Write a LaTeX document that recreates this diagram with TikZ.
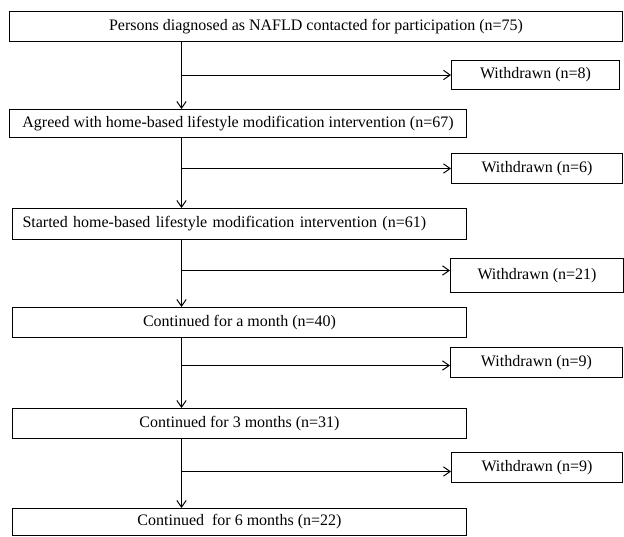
\documentclass[tikz,border=0pt]{standalone}
\usepackage{fontspec}
\setmainfont{Liberation Serif}
\usetikzlibrary{arrows.meta, positioning}

\tikzset{
    stagebox/.style={
        draw,
        line width=0.75pt,
        anchor=north west,
        inner sep=0pt,
        font=\fontsize{12}{14}\selectfont
    },
    flowarrow/.style={
        line width=0.75pt,
        -{Straight Barb[length=5pt,width=7pt]}
    }
}

\begin{document}
\begin{tikzpicture}[x=0.75pt, y=-0.75pt]
\useasboundingbox (0,0) rectangle (624,536);

\node [stagebox,
    minimum width=459.75pt,
    minimum height=22.5pt
]  (contacted) at (9,11) {Persons diagnosed as NAFLD contacted for participation (n=75)};

\node [stagebox,
    minimum width=126pt,
    minimum height=21.75pt
]  (out1) at (451,60) {Withdrawn (n=8)};

\node [stagebox,
    minimum width=342.75pt,
    minimum height=21pt
]  (agreed) at (9,109) {Agreed with home-based lifestyle modification intervention (n=67)};

\node [stagebox,
    minimum width=128.25pt,
    minimum height=22.5pt
]  (out2) at (451,153) {Withdrawn (n=6)};

\node [stagebox,
    text width=325.5pt,
    align=left,
    inner xsep=7.5pt,
    minimum height=23.25pt
]  (started) at (12,208) {Started home-based lifestyle modification intervention (n=61)};

\node [stagebox,
    minimum width=129.75pt,
    minimum height=25.5pt
]  (out3) at (450,258) {Withdrawn (n=21)};

\node [stagebox,
    minimum width=340.5pt,
    minimum height=22.5pt
]  (month1) at (12,307) {Continued for a month (n=40)};

\node [stagebox,
    minimum width=129pt,
    minimum height=22.5pt
]  (out4) at (450,347) {Withdrawn (n=9)};

\node [stagebox,
    minimum width=340.5pt,
    minimum height=22.5pt
]  (month3) at (12,408) {Continued for 3 months (n=31)};

\node [stagebox,
    minimum width=128.25pt,
    minimum height=22.5pt
]  (out5) at (451,452) {Withdrawn (n=9)};

\node [stagebox,
    minimum width=340.5pt,
    minimum height=20.25pt
]  (month6) at (12,508) {Continued\ \ for 6 months (n=22)};

\coordinate (spine) at (181.5,0);

\draw[flowarrow] (contacted.south -| spine) -- (agreed.north -| spine);
\draw[flowarrow] (agreed.south -| spine) -- (started.north -| spine);
\draw[flowarrow] (started.south -| spine) -- (month1.north -| spine);
\draw[flowarrow] (month1.south -| spine) -- (month3.north -| spine);
\draw[flowarrow] (month3.south -| spine) -- (month6.north -| spine);

% side exits
\draw[flowarrow] (spine |- out1.west) -- (out1.west);
\draw[flowarrow] (spine |- out2.west) -- (out2.west);
\draw[flowarrow] ([yshift=3.75pt]out3.west -| spine) -- ([yshift=3.75pt]out3.west);
\draw[flowarrow] ([yshift=-2.25pt]out4.west -| spine) -- ([yshift=-2.25pt]out4.west);
\draw[flowarrow] ([yshift=-3pt]out5.west -| spine) -- ([yshift=-3pt]out5.west);

\end{tikzpicture}
\end{document}
